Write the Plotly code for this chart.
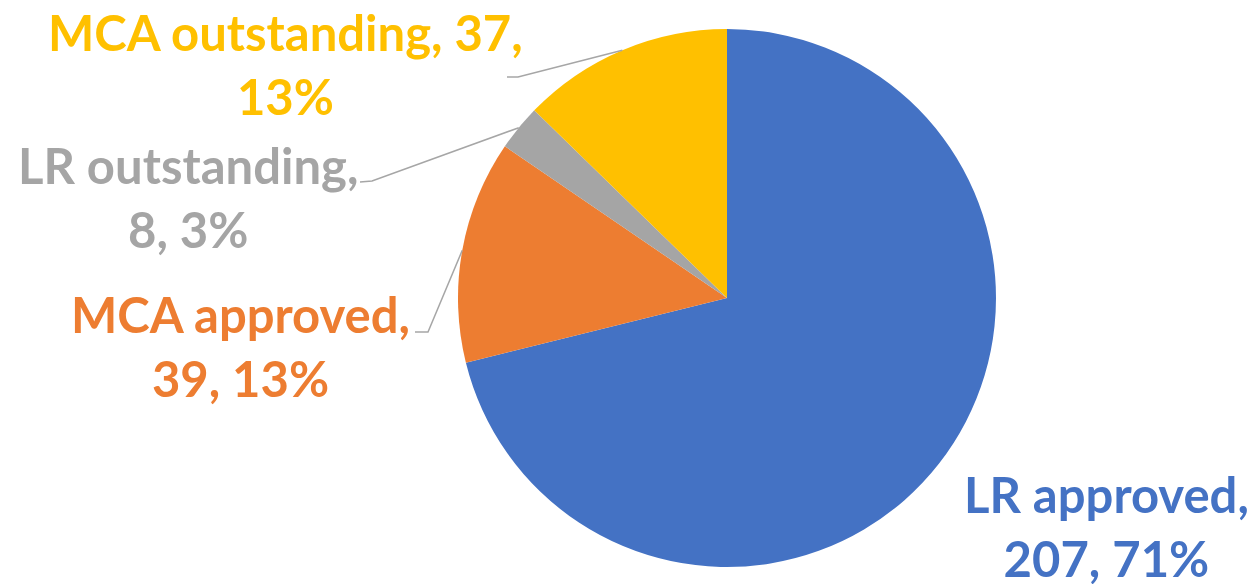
import math
import plotly.graph_objects as go

# ---- data ----
labels = ["LR approved", "MCA approved", "LR outstanding", "MCA outstanding"]
values = [207, 39, 8, 37]
colors = ["#4472C4", "#ED7D31", "#A5A5A5", "#FFC000"]

# ---- layout / style ----
W, H = 1256, 584
CX, CY, R = 727, 298, 269          # pie centre and radius in px (from top-left)
FONT = "Lato"
FSIZE = 49
# label block centres (px), line-break choices and leader anchor points
label_pos = {
    "LR approved": (1106, 526),
    "MCA approved": (240, 346),
    "LR outstanding": (188, 197),
    "MCA outstanding": (285, 64),
}
label_break = {
    "LR approved": 1,
    "MCA approved": 1,
    "LR outstanding": 1,
    "MCA outstanding": 2,
}
leader_start = {
    "MCA approved": [(415, 332), (428, 332)],
    "LR outstanding": [(360, 182), (372, 181)],
    "MCA outstanding": [(507, 77), (518, 77)],
}


def px2paper(x, y):
    return x / W, 1 - y / H


fig = go.Figure()
fig.add_trace(go.Pie(
    labels=labels,
    values=values,
    sort=False,
    direction="clockwise",
    rotation=0,
    textinfo="none",
    hoverinfo="label+value+percent",
    marker=dict(colors=colors, line=dict(width=0)),
    domain=dict(x=[(CX - R) / W, (CX + R) / W],
                y=[(H - CY - R) / H, (H - CY + R) / H]),
    showlegend=False,
))

total = sum(values)
cum = 0
annotations = []
shapes = []
for lab, val, col in zip(labels, values, colors):
    pct = round(100 * val / total)
    parts = [f"{lab},", f"{val},", f"{pct}%"]
    b = label_break[lab]
    text = " ".join(parts[:b]) + "<br>" + " ".join(parts[b:])
    lx, ly = label_pos[lab]
    px, py = px2paper(lx, ly)
    annotations.append(dict(
        x=px, y=py, xref="paper", yref="paper", text=text, showarrow=False,
        xanchor="center", yanchor="middle", align="center",
        font=dict(family=FONT, size=FSIZE, color=col, weight="bold"),
    ))
    theta = math.radians(360 * (cum + val / 2) / total)
    ex = CX + R * math.sin(theta)
    ey = CY - R * math.cos(theta)
    if lab in leader_start:
        pts = leader_start[lab] + [(ex, ey)]
        path = ""
        for i, (x, y) in enumerate(pts):
            qx, qy = px2paper(x, y)
            path += ("M" if i == 0 else "L") + f" {qx} {qy} "
        shapes.append(dict(type="path", path=path, xref="paper", yref="paper",
                           line=dict(color="#A6A6A6", width=1.5)))
    cum += val

fig.update_layout(
    width=W, height=H,
    margin=dict(l=0, r=0, t=0, b=0),
    paper_bgcolor="white", plot_bgcolor="white",
    annotations=annotations, shapes=shapes,
)
fig.write_html("out.html",
               config={"displayModeBar": False},
               post_script="document.body.style.margin='0';document.body.style.overflow='hidden';")
